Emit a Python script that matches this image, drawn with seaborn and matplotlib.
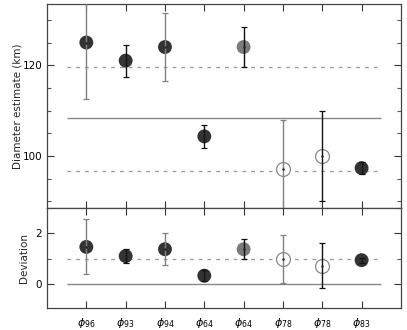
import numpy as np
import pandas as pd
import matplotlib
matplotlib.use('Agg')
import matplotlib.pyplot as plt
from matplotlib.ticker import MultipleLocator
import seaborn as sns

# values
subscripts = ['96', '93', '94', '64', '64', '78', '78', '83']
diam = [125.0, 121.0, 124.0, 104.3, 124.0, 97.0, 100.0, 97.3]
diam_lo = [112.5, 117.5, 116.5, 101.7, 119.5, 86.0, 90.0, 96.0]
diam_hi = [137.5, 124.4, 131.5, 106.8, 128.5, 108.0, 109.9, 98.6]
dev = [1.47, 1.11, 1.38, 0.34, 1.38, 0.98, 0.72, 0.95]
dev_lo = [0.40, 0.85, 0.74, 0.13, 0.99, 0.04, -0.16, 0.85]
dev_hi = [2.56, 1.38, 2.02, 0.57, 1.79, 1.93, 1.61, 1.05]
marker_kind = ['dark', 'dark', 'dark', 'dark', 'grey', 'open', 'open', 'dark']
bar_kind = ['grey', 'black', 'grey', 'black', 'black', 'grey', 'black', 'black']
diam_mean = 108.3
diam_band = [119.6, 96.6]

sns.set_style('ticks')
plt.rcParams['font.family'] = ['DejaVu Sans']
plt.rcParams['font.size'] = 7.5

df = pd.DataFrame({'x': np.arange(1, len(diam) + 1), 'diam': diam, 'dev': dev,
                   'kind': marker_kind, 'bar': bar_kind,
                   'dlo': diam_lo, 'dhi': diam_hi, 'vlo': dev_lo, 'vhi': dev_hi})

fig = plt.figure(figsize=(4.07, 3.30), dpi=100)
ax1 = fig.add_axes([0.1155, 0.3697, 0.8695, 0.6183])
ax2 = fig.add_axes([0.1155, 0.0667, 0.8695, 0.3030])

mcol = {'dark': '#333333', 'grey': '#7a7a7a'}
bcol = {'grey': '#808080', 'black': '#111111'}


def draw(ax, ycol, locol, hicol):
    filled = df[df['kind'] != 'open']
    sns.scatterplot(data=filled, x='x', y=ycol, hue='kind', palette=mcol, s=100,
                    edgecolor='none', legend=False, ax=ax, zorder=3)
    opn = df[df['kind'] == 'open']
    ax.scatter(opn['x'], opn[ycol], s=100, facecolors='white', edgecolors='#8a8a8a',
               linewidths=0.9, zorder=3)
    for _, r in df.iterrows():
        ax.errorbar(r['x'], r[ycol], yerr=[[r[ycol] - r[locol]], [r[hicol] - r[ycol]]],
                    fmt='none', ecolor=bcol[r['bar']], elinewidth=1.0, capsize=2.5,
                    capthick=0.9, zorder=4)
        ax.plot(r['x'], r[ycol], marker='.', ms=1.5, color='#222222', zorder=5)


draw(ax1, 'diam', 'dlo', 'dhi')
draw(ax2, 'dev', 'vlo', 'vhi')

ax1.hlines(diam_mean, 0.5, 8.5, color='#888888', lw=1.0, zorder=1)
for v in diam_band:
    ax1.hlines(v, 0.5, 8.5, color='#999999', lw=0.9, linestyles=(0, (3, 4)), zorder=1)
ax2.hlines(0, 0.5, 8.5, color='#888888', lw=1.0, zorder=1)
ax2.hlines(1, 0.5, 8.5, color='#999999', lw=0.9, linestyles=(0, (3, 4)), zorder=1)

for ax in (ax1, ax2):
    ax.set_xlim(0, 9)
    ax.set_xticks(df['x'])
    ax.tick_params(direction='in', top=True, right=True, length=5, width=0.8,
                   colors='#333333', labelcolor='black')
    ax.tick_params(which='minor', direction='in', right=True, length=3, width=0.8,
                   colors='#555555')
    ax.set_xlabel('')
    for s in ax.spines.values():
        s.set_linewidth(0.9)
        s.set_color('#444444')

ax1.set_ylim(88.5, 133.5)
ax1.yaxis.set_major_locator(MultipleLocator(20))
ax1.yaxis.set_minor_locator(MultipleLocator(5))
ax1.set_xticklabels([])
ax1.set_ylabel('Diameter estimate (km)')

ax2.set_ylim(-0.93, 3.0)
ax2.yaxis.set_major_locator(MultipleLocator(2))
ax2.yaxis.set_minor_locator(MultipleLocator(1))
ax2.set_xticklabels([r'$\phi_{%s}$' % s for s in subscripts], fontsize=8)
ax2.tick_params(axis='x', pad=6)
ax2.set_ylabel('Deviation')
ax1.yaxis.set_label_coords(-0.07, 0.5)
ax2.yaxis.set_label_coords(-0.05, 0.5)

fig.savefig('out.png', dpi=100)
